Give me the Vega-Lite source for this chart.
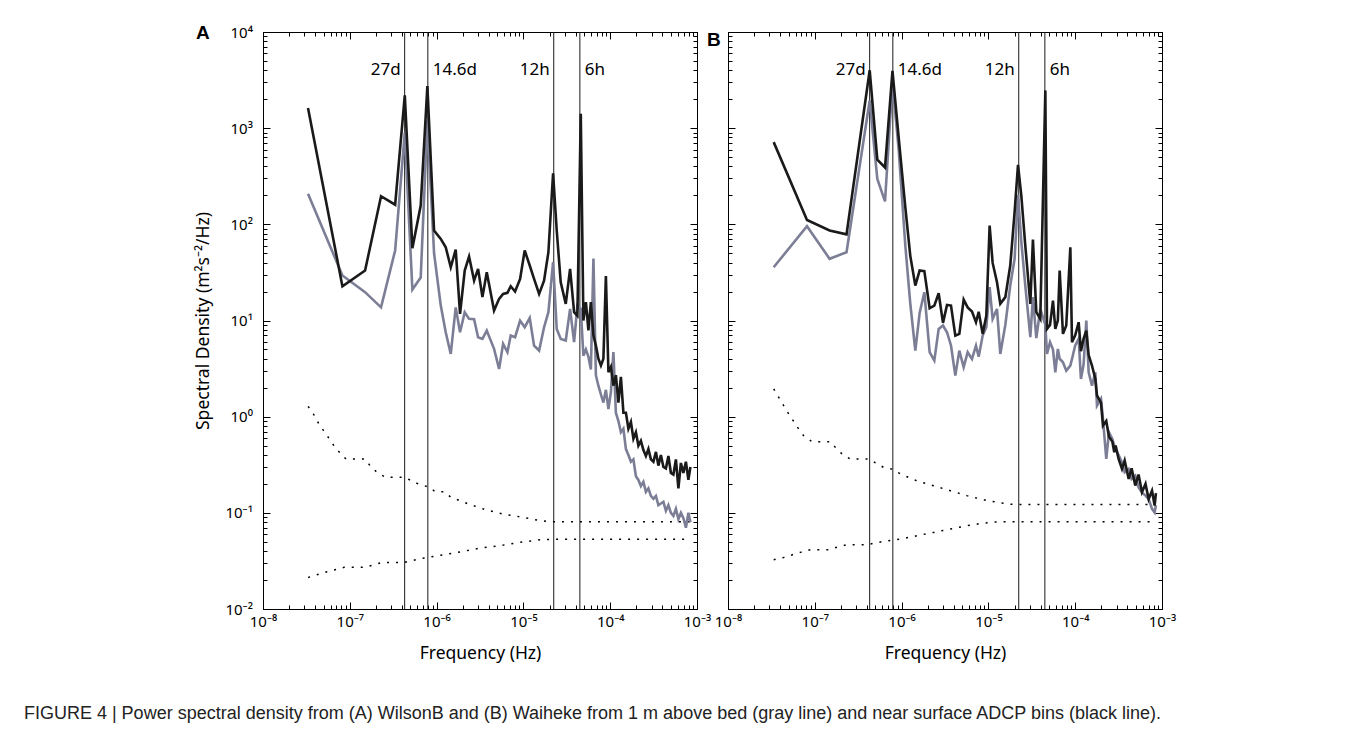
{
  "$schema": "https://vega.github.io/schema/vega-lite/v6.json",
  "background": "white",
  "padding": {"left": 23, "top": 24, "right": 5, "bottom": 5},
  "title": {"text": "FIGURE 4 | Power spectral density from (A) WilsonB and (B) Waiheke from 1 m above bed (gray line) and near surface ADCP bins (black line).", "orient": "bottom", "anchor": "start", "frame": "bounds", "dx": -171, "offset": 43, "font": "Liberation Sans", "fontSize": 18, "fontWeight": "normal", "color": "#222"},
  "spacing": -4,
  "datasets": {
    "vl": [
      {"f": 4.287e-7, "lab": "27d", "side": "L"},
      {"f": 7.927e-7, "lab": "14.6d", "side": "R"},
      {"f": 2.2366e-5, "lab": "12h", "side": "L"},
      {"f": 4.4733e-5, "lab": "6h", "side": "R"}
    ],
    "specA": [
      {"f": 3.30e-8, "k": 1618, "g": 208},
      {"f": 8.22e-8, "k": 22.7, "g": 29.4},
      {"f": 1.50e-7, "k": 33.1, "g": 19.7},
      {"f": 2.29e-7, "k": 196, "g": 13.7},
      {"f": 3.33e-7, "k": 160, "g": 53.5},
      {"f": 4.30e-7, "k": 2190, "g": 900},
      {"f": 5.26e-7, "k": 56.5, "g": 21},
      {"f": 6.56e-7, "k": 157, "g": 28},
      {"f": 7.83e-7, "k": 2740, "g": 1200},
      {"f": 9.35e-7, "k": 86.3, "g": 50},
      {"f": 1.117e-6, "k": 70.6, "g": 14.3},
      {"f": 1.274e-6, "k": 57.8, "g": 7.55},
      {"f": 1.456e-6, "k": 35.8, "g": 4.49},
      {"f": 1.660e-6, "k": 54.7, "g": 13.7},
      {"f": 1.862e-6, "k": 11.7, "g": 7.55},
      {"f": 2.109e-6, "k": 33.1, "g": 12.2},
      {"f": 2.366e-6, "k": 46.2, "g": 10.4},
      {"f": 2.704e-6, "k": 26.0, "g": 10.3},
      {"f": 3.006e-6, "k": 34.4, "g": 6.70},
      {"f": 3.373e-6, "k": 17.5, "g": 6.44},
      {"f": 3.784e-6, "k": 31.8, "g": 7.85},
      {"f": 4.592e-6, "k": 12.7, "g": 5.07},
      {"f": 5.248e-6, "k": 16.8, "g": 3.13},
      {"f": 5.834e-6, "k": 18.9, "g": 5.71},
      {"f": 6.546e-6, "k": 19.4, "g": 4.68},
      {"f": 7.145e-6, "k": 22.7, "g": 6.97},
      {"f": 8.017e-6, "k": 20.0, "g": 6.70},
      {"f": 9.162e-6, "k": 27.1, "g": 9.98},
      {"f": 1.035e-5, "k": 53.5, "g": 8.51},
      {"f": 1.183e-5, "k": 37.3, "g": 10.6},
      {"f": 1.327e-5, "k": 27.1, "g": 5.48},
      {"f": 1.517e-5, "k": 18.9, "g": 4.87},
      {"f": 1.730e-5, "k": 26.0, "g": 8.51},
      {"f": 1.941e-5, "k": 51.3, "g": 12.2},
      {"f": 2.198e-5, "k": 340, "g": 40.4},
      {"f": 2.421e-5, "k": 86.3, "g": 8.18},
      {"f": 2.692e-5, "k": 25.0, "g": 6.44},
      {"f": 3.076e-5, "k": 14.9, "g": 6.19},
      {"f": 3.451e-5, "k": 34.4, "g": 13.2},
      {"f": 3.837e-5, "k": 12.2, "g": 5.95},
      {"f": 4.188e-5, "k": 11.2, "g": 14.3},
      {"f": 4.581e-5, "k": 1413, "g": 13.2},
      {"f": 4.91e-5, "k": 10, "g": 4.3},
      {"f": 5.25e-5, "k": 15.5, "g": 5.0},
      {"f": 5.61e-5, "k": 7.9, "g": 4.2},
      {"f": 5.99e-5, "k": 15.5, "g": 3.1},
      {"f": 6.41e-5, "k": 7.0, "g": 44},
      {"f": 6.84e-5, "k": 5.5, "g": 2.7},
      {"f": 7.31e-5, "k": 4.0, "g": 2.1},
      {"f": 7.82e-5, "k": 3.4, "g": 1.7},
      {"f": 8.35e-5, "k": 4.0, "g": 1.4},
      {"f": 8.92e-5, "k": 29, "g": 1.9},
      {"f": 9.54e-5, "k": 2.9, "g": 1.2},
      {"f": 1.019e-4, "k": 3.3, "g": 1.8},
      {"f": 1.089e-4, "k": 2.1, "g": 4.7},
      {"f": 1.163e-4, "k": 2.7, "g": 1.1},
      {"f": 1.243e-4, "k": 1.4, "g": 0.9},
      {"f": 1.328e-4, "k": 2.6, "g": 0.69},
      {"f": 1.419e-4, "k": 1.1, "g": 0.75},
      {"f": 1.517e-4, "k": 1.1, "g": 0.46},
      {"f": 1.621e-4, "k": 0.75, "g": 0.40},
      {"f": 1.732e-4, "k": 0.88, "g": 0.34},
      {"f": 1.851e-4, "k": 0.59, "g": 0.36},
      {"f": 1.978e-4, "k": 0.69, "g": 0.24},
      {"f": 2.113e-4, "k": 0.50, "g": 0.22},
      {"f": 2.258e-4, "k": 0.56, "g": 0.19},
      {"f": 2.413e-4, "k": 0.45, "g": 0.21},
      {"f": 2.578e-4, "k": 0.39, "g": 0.165},
      {"f": 2.755e-4, "k": 0.46, "g": 0.18},
      {"f": 2.944e-4, "k": 0.36, "g": 0.15},
      {"f": 3.146e-4, "k": 0.34, "g": 0.14},
      {"f": 3.362e-4, "k": 0.43, "g": 0.15},
      {"f": 3.592e-4, "k": 0.31, "g": 0.12},
      {"f": 3.838e-4, "k": 0.40, "g": 0.125},
      {"f": 4.102e-4, "k": 0.30, "g": 0.13},
      {"f": 4.383e-4, "k": 0.29, "g": 0.105},
      {"f": 4.683e-4, "k": 0.39, "g": 0.12},
      {"f": 5.004e-4, "k": 0.26, "g": 0.10},
      {"f": 5.347e-4, "k": 0.25, "g": 0.093},
      {"f": 5.714e-4, "k": 0.36, "g": 0.11},
      {"f": 6.105e-4, "k": 0.18, "g": 0.086},
      {"f": 6.524e-4, "k": 0.33, "g": 0.10},
      {"f": 6.971e-4, "k": 0.26, "g": 0.088},
      {"f": 7.449e-4, "k": 0.34, "g": 0.07},
      {"f": 7.960e-4, "k": 0.22, "g": 0.10},
      {"f": 8.395e-4, "k": 0.30, "g": 0.08}
    ],
    "specB": [
      {"f": 3.36e-8, "k": 716, "g": 35.8},
      {"f": 8.13e-8, "k": 111, "g": 95.7},
      {"f": 1.48e-7, "k": 86.3, "g": 43.8},
      {"f": 2.32e-7, "k": 78.7, "g": 51.3},
      {"f": 4.29e-7, "k": 4000, "g": 1944},
      {"f": 5.25e-7, "k": 470, "g": 297},
      {"f": 6.44e-7, "k": 390, "g": 173},
      {"f": 7.85e-7, "k": 3950, "g": 3000},
      {"f": 9.25e-7, "k": 800, "g": 600},
      {"f": 1.104e-6, "k": 150, "g": 60},
      {"f": 1.259e-6, "k": 47, "g": 15},
      {"f": 1.439e-6, "k": 23.1, "g": 4.86},
      {"f": 1.614e-6, "k": 33.1, "g": 12},
      {"f": 1.828e-6, "k": 32.6, "g": 19.7},
      {"f": 2.104e-6, "k": 13.4, "g": 4.68},
      {"f": 2.382e-6, "k": 14.3, "g": 3.83},
      {"f": 2.673e-6, "k": 19.2, "g": 8.18},
      {"f": 2.999e-6, "k": 9.44, "g": 8.87},
      {"f": 3.334e-6, "k": 14.5, "g": 7.55},
      {"f": 3.707e-6, "k": 14.3, "g": 5.5},
      {"f": 4.159e-6, "k": 6.97, "g": 2.67},
      {"f": 4.624e-6, "k": 7.26, "g": 4.86},
      {"f": 5.188e-6, "k": 16.5, "g": 3.27},
      {"f": 5.768e-6, "k": 13.7, "g": 4.68},
      {"f": 6.471e-6, "k": 12.4, "g": 3.98},
      {"f": 7.194e-6, "k": 9.6, "g": 5.48},
      {"f": 7.727e-6, "k": 12.3, "g": 4.2},
      {"f": 8.590e-6, "k": 7.26, "g": 6.97},
      {"f": 9.462e-6, "k": 11.2, "g": 8.5},
      {"f": 1.033e-5, "k": 97.2, "g": 22.2},
      {"f": 1.119e-5, "k": 39.7, "g": 10.4},
      {"f": 1.256e-5, "k": 25.0, "g": 13.2},
      {"f": 1.371e-5, "k": 14.9, "g": 4.49},
      {"f": 1.567e-5, "k": 17.5, "g": 9},
      {"f": 1.786e-5, "k": 37.3, "g": 23.1},
      {"f": 2.004e-5, "k": 134, "g": 43.8},
      {"f": 2.193e-5, "k": 416, "g": 203},
      {"f": 2.393e-5, "k": 200, "g": 66.4},
      {"f": 2.661e-5, "k": 60.1, "g": 23.1},
      {"f": 3.041e-5, "k": 14.9, "g": 6.70},
      {"f": 3.258e-5, "k": 69.5, "g": 17.5},
      {"f": 3.565e-5, "k": 12.2, "g": 6.55},
      {"f": 3.963e-5, "k": 10.4, "g": 13.2},
      {"f": 4.529e-5, "k": 2470, "g": 9},
      {"f": 4.732e-5, "k": 8.18, "g": 4.49},
      {"f": 5.129e-5, "k": 9, "g": 5.95},
      {"f": 5.546e-5, "k": 16.1, "g": 5.0},
      {"f": 5.902e-5, "k": 8.2, "g": 2.89},
      {"f": 6.310e-5, "k": 10, "g": 5.07},
      {"f": 6.622e-5, "k": 33.1, "g": 4.0},
      {"f": 7.228e-5, "k": 7.26, "g": 3.68},
      {"f": 7.889e-5, "k": 8.87, "g": 3.01},
      {"f": 8.790e-5, "k": 57.8, "g": 3.40},
      {"f": 9.183e-5, "k": 5.95, "g": 3.98},
      {"f": 1.0e-4, "k": 7.0, "g": 5.5},
      {"f": 1.096e-4, "k": 9.6, "g": 6.44},
      {"f": 1.164e-4, "k": 4.80, "g": 2.47},
      {"f": 1.250e-4, "k": 6.5, "g": 3.5},
      {"f": 1.343e-4, "k": 7.85, "g": 9.98},
      {"f": 1.429e-4, "k": 4.37, "g": 2.9},
      {"f": 1.560e-4, "k": 3.40, "g": 2.10},
      {"f": 1.706e-4, "k": 2.47, "g": 2.90},
      {"f": 1.782e-4, "k": 1.66, "g": 1.30},
      {"f": 1.982e-4, "k": 1.4, "g": 1.53},
      {"f": 2.089e-4, "k": 0.807, "g": 0.946},
      {"f": 2.280e-4, "k": 0.9, "g": 0.363},
      {"f": 2.449e-4, "k": 0.62, "g": 0.687},
      {"f": 2.679e-4, "k": 0.55, "g": 0.586},
      {"f": 2.818e-4, "k": 0.426, "g": 0.5},
      {"f": 2.924e-4, "k": 0.5, "g": 0.461},
      {"f": 3.162e-4, "k": 0.363, "g": 0.40},
      {"f": 3.459e-4, "k": 0.286, "g": 0.335},
      {"f": 3.715e-4, "k": 0.35, "g": 0.264},
      {"f": 4.130e-4, "k": 0.225, "g": 0.286},
      {"f": 4.467e-4, "k": 0.29, "g": 0.225},
      {"f": 4.920e-4, "k": 0.192, "g": 0.244},
      {"f": 5.370e-4, "k": 0.25, "g": 0.184},
      {"f": 5.875e-4, "k": 0.164, "g": 0.163},
      {"f": 6.457e-4, "k": 0.2, "g": 0.151},
      {"f": 7.015e-4, "k": 0.139, "g": 0.139},
      {"f": 7.674e-4, "k": 0.17, "g": 0.11},
      {"f": 8.222e-4, "k": 0.119, "g": 0.101},
      {"f": 8.51e-4, "k": 0.16, "g": 0.12}
    ],
    "ciA": [
      {"s": "u", "f": 3.311e-8, "v": 1.28}, {"s": "u", "f": 3.802e-8, "v": 1.07}, {"s": "u", "f": 4.345e-8, "v": 0.859},
      {"s": "u", "f": 4.989e-8, "v": 0.716}, {"s": "u", "f": 6.561e-8, "v": 0.50}, {"s": "u", "f": 7.870e-8, "v": 0.41},
      {"s": "u", "f": 9.036e-8, "v": 0.363}, {"s": "u", "f": 1.493e-7, "v": 0.363}, {"s": "u", "f": 1.714e-7, "v": 0.309},
      {"s": "u", "f": 2.056e-7, "v": 0.264}, {"s": "u", "f": 2.582e-7, "v": 0.234}, {"s": "u", "f": 4.266e-7, "v": 0.234},
      {"s": "u", "f": 6.152e-7, "v": 0.20}, {"s": "u", "f": 7.870e-7, "v": 0.187}, {"s": "u", "f": 9.705e-7, "v": 0.166},
      {"s": "u", "f": 1.219e-6, "v": 0.166}, {"s": "u", "f": 1.466e-6, "v": 0.145}, {"s": "u", "f": 2.312e-6, "v": 0.124},
      {"s": "u", "f": 3.648e-6, "v": 0.108}, {"s": "u", "f": 5.754e-6, "v": 0.0973}, {"s": "u", "f": 9.977e-6, "v": 0.0898},
      {"s": "u", "f": 1.574e-5, "v": 0.0828}, {"s": "u", "f": 2.168e-5, "v": 0.081}, {"s": "u", "f": 8.375e-4, "v": 0.081},
      {"s": "l", "f": 3.311e-8, "v": 0.0213}, {"s": "l", "f": 5.458e-8, "v": 0.0244}, {"s": "l", "f": 8.610e-8, "v": 0.0271},
      {"s": "l", "f": 1.493e-7, "v": 0.0271}, {"s": "l", "f": 2.355e-7, "v": 0.0305}, {"s": "l", "f": 4.266e-7, "v": 0.0305},
      {"s": "l", "f": 6.152e-7, "v": 0.033}, {"s": "l", "f": 1.016e-6, "v": 0.0358}, {"s": "l", "f": 1.758e-6, "v": 0.0388},
      {"s": "l", "f": 3.041e-6, "v": 0.0427}, {"s": "l", "f": 5.260e-6, "v": 0.0455}, {"s": "l", "f": 9.120e-6, "v": 0.0493},
      {"s": "l", "f": 1.574e-5, "v": 0.0525}, {"s": "l", "f": 2.270e-5, "v": 0.053}, {"s": "l", "f": 8.375e-4, "v": 0.053}
    ],
    "ciB": [
      {"s": "u", "f": 3.36e-8, "v": 1.94}, {"s": "u", "f": 4.38e-8, "v": 1.30}, {"s": "u", "f": 5.0e-8, "v": 1.07},
      {"s": "u", "f": 6.52e-8, "v": 0.745}, {"s": "u", "f": 7.43e-8, "v": 0.635}, {"s": "u", "f": 9.27e-8, "v": 0.55},
      {"s": "u", "f": 1.507e-7, "v": 0.55}, {"s": "u", "f": 1.722e-7, "v": 0.48}, {"s": "u", "f": 2.056e-7, "v": 0.41},
      {"s": "u", "f": 2.564e-7, "v": 0.363}, {"s": "u", "f": 4.169e-7, "v": 0.363}, {"s": "u", "f": 6.209e-7, "v": 0.297},
      {"s": "u", "f": 7.745e-7, "v": 0.285}, {"s": "u", "f": 9.661e-7, "v": 0.254}, {"s": "u", "f": 1.503e-6, "v": 0.215},
      {"s": "u", "f": 2.339e-6, "v": 0.191}, {"s": "u", "f": 3.639e-6, "v": 0.170}, {"s": "u", "f": 5.662e-6, "v": 0.151},
      {"s": "u", "f": 9.616e-6, "v": 0.134}, {"s": "u", "f": 1.633e-5, "v": 0.124}, {"s": "u", "f": 2.042e-5, "v": 0.122},
      {"s": "u", "f": 8.375e-4, "v": 0.122},
      {"s": "l", "f": 3.36e-8, "v": 0.0325}, {"s": "l", "f": 4.38e-8, "v": 0.0344}, {"s": "l", "f": 6.808e-8, "v": 0.0388},
      {"s": "l", "f": 8.872e-8, "v": 0.0414}, {"s": "l", "f": 1.442e-7, "v": 0.0414}, {"s": "l", "f": 1.799e-7, "v": 0.0438},
      {"s": "l", "f": 2.350e-7, "v": 0.0466}, {"s": "l", "f": 3.990e-7, "v": 0.0466}, {"s": "l", "f": 6.209e-7, "v": 0.0505},
      {"s": "l", "f": 9.661e-7, "v": 0.0533}, {"s": "l", "f": 1.503e-6, "v": 0.0578}, {"s": "l", "f": 2.339e-6, "v": 0.0626},
      {"s": "l", "f": 3.639e-6, "v": 0.0678}, {"s": "l", "f": 5.662e-6, "v": 0.0734}, {"s": "l", "f": 8.810e-6, "v": 0.0783},
      {"s": "l", "f": 1.371e-5, "v": 0.081}, {"s": "l", "f": 8.375e-4, "v": 0.081}
    ]
  },
  "hconcat": [
    {
      "width": 434, "height": 577,
      "title": {"text": "A", "anchor": "start", "frame": "group", "orient": "top", "offset": 0, "baseline": "middle", "dx": -67, "dy": 27, "fontSize": 19, "font": "Liberation Sans", "fontWeight": "bold", "color": "#000"},
      "layer": [
        {"data": {"name": "vl"}, "mark": {"type": "rule", "color": "#1a1a1a", "strokeWidth": 1},
         "encoding": {"x": {"field": "f", "type": "quantitative", "scale": {"type": "log", "domain": [1e-8, 0.001], "nice": false},
                            "axis": {"orient": "bottom", "labels": false, "domain": false, "title": null, "tickSize": -7, "values": [1e-8,1e-7,1e-6,1e-5,0.0001,0.001]}},
                      "y": {"datum": 0.01, "type": "quantitative", "scale": {"type": "log", "domain": [0.01, 10000], "nice": false},
                            "axis": {"orient": "left", "labels": false, "domain": false, "title": null, "tickSize": -7, "values": [0.01,0.1,1,10,100,1000,10000]}},
                      "y2": {"datum": 10000}}},
        {"data": {"name": "ciA"}, "mark": {"type": "line", "color": "#000", "strokeWidth": 1.5, "strokeDash": [2, 7]},
         "encoding": {"x": {"field": "f", "type": "quantitative", "scale": {"type": "log", "domain": [1e-8, 0.001], "nice": false},
                            "axis": {"orient": "top", "labels": false, "title": null, "tickSize": -4, "values": [1e-8,2e-8,3e-8,4e-8,5e-8,6e-8,7e-8,8e-8,9e-8,1e-7,2e-7,3e-7,4e-7,5e-7,6e-7,7e-7,8e-7,9e-7,1e-6,2e-6,3e-6,4e-6,5e-6,6e-6,7e-6,8e-6,9e-6,1e-5,2e-5,3e-5,4e-5,5e-5,6e-5,7e-5,8e-5,9e-5,0.0001,0.0002,0.0003,0.0004,0.0005,0.0006,0.0007,0.0008,0.0009,0.001]}},
                      "y": {"field": "v", "type": "quantitative", "scale": {"type": "log", "domain": [0.01, 10000], "nice": false},
                            "axis": {"orient": "right", "labels": false, "title": null, "tickSize": -4, "values": [0.01,0.02,0.03,0.04,0.05,0.06,0.07,0.08,0.09,0.1,0.2,0.3,0.4,0.5,0.6,0.7,0.8,0.9,1,2,3,4,5,6,7,8,9,10,20,30,40,50,60,70,80,90,100,200,300,400,500,600,700,800,900,1000,2000,3000,4000,5000,6000,7000,8000,9000,10000]}},
                      "detail": {"field": "s"}}},
        {"data": {"name": "specA"}, "mark": {"type": "line", "color": "#7c7e96", "strokeWidth": 2.6},
         "encoding": {"x": {"field": "f", "type": "quantitative", "scale": {"type": "log", "domain": [1e-8, 0.001], "nice": false},
                            "axis": {"orient": "bottom", "title": "Frequency (Hz)", "tickSize": -4, "labelPadding": 9, "labelFlush": false, "labelOverlap": false, "labelFontSize": 15, "labelFont": "Noto Sans", "titleFont": "Noto Sans", "titleFontSize": 17.5, "titleFontWeight": "normal", "titlePadding": 15,
                                     "labelExpr": "abs(log(datum.value)/LN10 - round(log(datum.value)/LN10)) < 0.001 ? '10' + (round(log(datum.value)/LN10) < 0 ? '⁻' : '') + ['⁰','¹','²','³','⁴','⁵','⁶','⁷','⁸','⁹'][abs(round(log(datum.value)/LN10))] : ''",
                                     "values": [1e-8,2e-8,3e-8,4e-8,5e-8,6e-8,7e-8,8e-8,9e-8,1e-7,2e-7,3e-7,4e-7,5e-7,6e-7,7e-7,8e-7,9e-7,1e-6,2e-6,3e-6,4e-6,5e-6,6e-6,7e-6,8e-6,9e-6,1e-5,2e-5,3e-5,4e-5,5e-5,6e-5,7e-5,8e-5,9e-5,0.0001,0.0002,0.0003,0.0004,0.0005,0.0006,0.0007,0.0008,0.0009,0.001]}},
                      "y": {"field": "g", "type": "quantitative", "scale": {"type": "log", "domain": [0.01, 10000], "nice": false},
                            "axis": {"orient": "left", "title": "Spectral Density (m²s⁻²/Hz)", "tickSize": -4, "labelPadding": 14.6, "labelFlush": false, "labelOverlap": false, "labelFontSize": 15, "labelFont": "Noto Sans", "titleFont": "Noto Sans", "titleFontSize": 17.5, "titleFontWeight": "normal", "titlePadding": 12,
                                     "labelExpr": "abs(log(datum.value)/LN10 - round(log(datum.value)/LN10)) < 0.001 ? '10' + (round(log(datum.value)/LN10) < 0 ? '⁻' : '') + ['⁰','¹','²','³','⁴','⁵','⁶','⁷','⁸','⁹'][abs(round(log(datum.value)/LN10))] : ''",
                                     "values": [0.01,0.02,0.03,0.04,0.05,0.06,0.07,0.08,0.09,0.1,0.2,0.3,0.4,0.5,0.6,0.7,0.8,0.9,1,2,3,4,5,6,7,8,9,10,20,30,40,50,60,70,80,90,100,200,300,400,500,600,700,800,900,1000,2000,3000,4000,5000,6000,7000,8000,9000,10000]}}}},
        {"data": {"name": "specA"}, "mark": {"type": "line", "color": "#1a1a1a", "strokeWidth": 2.6},
         "encoding": {"x": {"field": "f", "type": "quantitative", "scale": {"type": "log", "domain": [1e-8, 0.001], "nice": false},
                            "axis": {"orient": "top", "labels": false, "domain": false, "title": null, "tickSize": -7, "values": [1e-8,1e-7,1e-6,1e-5,0.0001,0.001]}},
                      "y": {"field": "k", "type": "quantitative", "scale": {"type": "log", "domain": [0.01, 10000], "nice": false},
                            "axis": {"orient": "right", "labels": false, "domain": false, "title": null, "tickSize": -7, "values": [0.01,0.1,1,10,100,1000,10000]}}}},
        {"data": {"name": "vl"}, "transform": [{"filter": "datum.side == 'L'"}],
         "mark": {"type": "text", "align": "right", "baseline": "middle", "dx": -4, "fontSize": 17, "font": "Noto Sans", "color": "#000"},
         "encoding": {"x": {"field": "f", "type": "quantitative", "scale": {"type": "log", "domain": [1e-8, 0.001], "nice": false}, "axis": null},
                      "y": {"datum": 3981, "type": "quantitative", "scale": {"type": "log", "domain": [0.01, 10000], "nice": false}, "axis": null},
                      "text": {"field": "lab"}}},
        {"data": {"name": "vl"}, "transform": [{"filter": "datum.side == 'R'"}],
         "mark": {"type": "text", "align": "left", "baseline": "middle", "dx": 5, "fontSize": 17, "font": "Noto Sans", "color": "#000"},
         "encoding": {"x": {"field": "f", "type": "quantitative", "scale": {"type": "log", "domain": [1e-8, 0.001], "nice": false}, "axis": null},
                      "y": {"datum": 3981, "type": "quantitative", "scale": {"type": "log", "domain": [0.01, 10000], "nice": false}, "axis": null},
                      "text": {"field": "lab"}}}
      ],
      "resolve": {"axis": {"x": "independent", "y": "independent"}}
    },
    {
      "width": 434, "height": 577,
      "title": {"text": "B", "anchor": "start", "frame": "group", "orient": "top", "offset": 0, "baseline": "middle", "dx": -21, "dy": 27, "fontSize": 19, "font": "Liberation Sans", "fontWeight": "bold", "color": "#000"},
      "layer": [
        {"data": {"name": "vl"}, "mark": {"type": "rule", "color": "#1a1a1a", "strokeWidth": 1},
         "encoding": {"x": {"field": "f", "type": "quantitative", "scale": {"type": "log", "domain": [1e-8, 0.001], "nice": false},
                            "axis": {"orient": "bottom", "labels": false, "domain": false, "title": null, "tickSize": -7, "values": [1e-8,1e-7,1e-6,1e-5,0.0001,0.001]}},
                      "y": {"datum": 0.01, "type": "quantitative", "scale": {"type": "log", "domain": [0.01, 10000], "nice": false},
                            "axis": {"orient": "left", "labels": false, "domain": false, "title": null, "tickSize": -7, "values": [0.01,0.1,1,10,100,1000,10000]}},
                      "y2": {"datum": 10000}}},
        {"data": {"name": "ciB"}, "mark": {"type": "line", "color": "#000", "strokeWidth": 1.5, "strokeDash": [2, 7]},
         "encoding": {"x": {"field": "f", "type": "quantitative", "scale": {"type": "log", "domain": [1e-8, 0.001], "nice": false},
                            "axis": {"orient": "top", "labels": false, "title": null, "tickSize": -4, "values": [1e-8,2e-8,3e-8,4e-8,5e-8,6e-8,7e-8,8e-8,9e-8,1e-7,2e-7,3e-7,4e-7,5e-7,6e-7,7e-7,8e-7,9e-7,1e-6,2e-6,3e-6,4e-6,5e-6,6e-6,7e-6,8e-6,9e-6,1e-5,2e-5,3e-5,4e-5,5e-5,6e-5,7e-5,8e-5,9e-5,0.0001,0.0002,0.0003,0.0004,0.0005,0.0006,0.0007,0.0008,0.0009,0.001]}},
                      "y": {"field": "v", "type": "quantitative", "scale": {"type": "log", "domain": [0.01, 10000], "nice": false},
                            "axis": {"orient": "right", "labels": false, "title": null, "tickSize": -4, "values": [0.01,0.02,0.03,0.04,0.05,0.06,0.07,0.08,0.09,0.1,0.2,0.3,0.4,0.5,0.6,0.7,0.8,0.9,1,2,3,4,5,6,7,8,9,10,20,30,40,50,60,70,80,90,100,200,300,400,500,600,700,800,900,1000,2000,3000,4000,5000,6000,7000,8000,9000,10000]}},
                      "detail": {"field": "s"}}},
        {"data": {"name": "specB"}, "mark": {"type": "line", "color": "#7c7e96", "strokeWidth": 2.6},
         "encoding": {"x": {"field": "f", "type": "quantitative", "scale": {"type": "log", "domain": [1e-8, 0.001], "nice": false},
                            "axis": {"orient": "bottom", "title": "Frequency (Hz)", "tickSize": -4, "labelPadding": 9, "labelFlush": false, "labelOverlap": false, "labelFontSize": 15, "labelFont": "Noto Sans", "titleFont": "Noto Sans", "titleFontSize": 17.5, "titleFontWeight": "normal", "titlePadding": 15,
                                     "labelExpr": "abs(log(datum.value)/LN10 - round(log(datum.value)/LN10)) < 0.001 ? '10' + (round(log(datum.value)/LN10) < 0 ? '⁻' : '') + ['⁰','¹','²','³','⁴','⁵','⁶','⁷','⁸','⁹'][abs(round(log(datum.value)/LN10))] : ''",
                                     "values": [1e-8,2e-8,3e-8,4e-8,5e-8,6e-8,7e-8,8e-8,9e-8,1e-7,2e-7,3e-7,4e-7,5e-7,6e-7,7e-7,8e-7,9e-7,1e-6,2e-6,3e-6,4e-6,5e-6,6e-6,7e-6,8e-6,9e-6,1e-5,2e-5,3e-5,4e-5,5e-5,6e-5,7e-5,8e-5,9e-5,0.0001,0.0002,0.0003,0.0004,0.0005,0.0006,0.0007,0.0008,0.0009,0.001]}},
                      "y": {"field": "g", "type": "quantitative", "scale": {"type": "log", "domain": [0.01, 10000], "nice": false},
                            "axis": {"orient": "left", "title": null, "labels": false, "tickSize": -4,
                                     "values": [0.01,0.02,0.03,0.04,0.05,0.06,0.07,0.08,0.09,0.1,0.2,0.3,0.4,0.5,0.6,0.7,0.8,0.9,1,2,3,4,5,6,7,8,9,10,20,30,40,50,60,70,80,90,100,200,300,400,500,600,700,800,900,1000,2000,3000,4000,5000,6000,7000,8000,9000,10000]}}}},
        {"data": {"name": "specB"}, "mark": {"type": "line", "color": "#1a1a1a", "strokeWidth": 2.6},
         "encoding": {"x": {"field": "f", "type": "quantitative", "scale": {"type": "log", "domain": [1e-8, 0.001], "nice": false},
                            "axis": {"orient": "top", "labels": false, "domain": false, "title": null, "tickSize": -7, "values": [1e-8,1e-7,1e-6,1e-5,0.0001,0.001]}},
                      "y": {"field": "k", "type": "quantitative", "scale": {"type": "log", "domain": [0.01, 10000], "nice": false},
                            "axis": {"orient": "right", "labels": false, "domain": false, "title": null, "tickSize": -7, "values": [0.01,0.1,1,10,100,1000,10000]}}}},
        {"data": {"name": "vl"}, "transform": [{"filter": "datum.side == 'L'"}],
         "mark": {"type": "text", "align": "right", "baseline": "middle", "dx": -4, "fontSize": 17, "font": "Noto Sans", "color": "#000"},
         "encoding": {"x": {"field": "f", "type": "quantitative", "scale": {"type": "log", "domain": [1e-8, 0.001], "nice": false}, "axis": null},
                      "y": {"datum": 3981, "type": "quantitative", "scale": {"type": "log", "domain": [0.01, 10000], "nice": false}, "axis": null},
                      "text": {"field": "lab"}}},
        {"data": {"name": "vl"}, "transform": [{"filter": "datum.side == 'R'"}],
         "mark": {"type": "text", "align": "left", "baseline": "middle", "dx": 5, "fontSize": 17, "font": "Noto Sans", "color": "#000"},
         "encoding": {"x": {"field": "f", "type": "quantitative", "scale": {"type": "log", "domain": [1e-8, 0.001], "nice": false}, "axis": null},
                      "y": {"datum": 3981, "type": "quantitative", "scale": {"type": "log", "domain": [0.01, 10000], "nice": false}, "axis": null},
                      "text": {"field": "lab"}}}
      ],
      "resolve": {"axis": {"x": "independent", "y": "independent"}}
    }
  ],
  "config": {
    "view": {"stroke": null},
    "axis": {"grid": false, "domainColor": "#000", "tickColor": "#000", "labelColor": "#000", "titleColor": "#000", "domainWidth": 1, "tickWidth": 1}
  }
}
